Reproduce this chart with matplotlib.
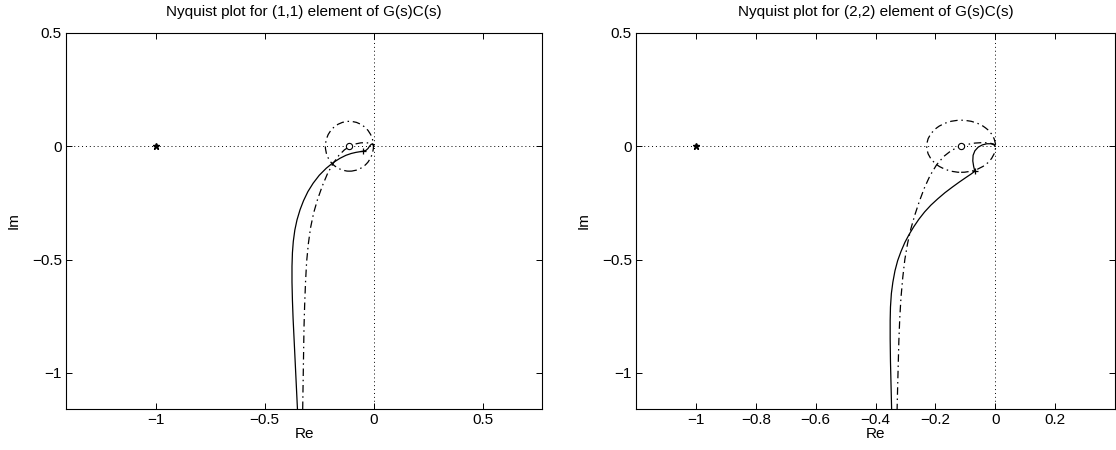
import matplotlib
matplotlib.use("Agg")
import matplotlib.pyplot as plt
from matplotlib.patches import Circle

plt.rcParams['font.family'] = ['Liberation Sans', 'DejaVu Sans']
plt.rcParams['font.size'] = 11

# ---------------- data ----------------
titles = ["Nyquist plot for (1,1) element of G(s)C(s)",
          "Nyquist plot for (2,2) element of G(s)C(s)"]

# (1,1) element
re11_solid = [-0.350, -0.354, -0.358, -0.362, -0.366, -0.370, -0.373, -0.375, -0.375,
              -0.373, -0.369, -0.362, -0.352, -0.338, -0.322, -0.302, -0.278, -0.250,
              -0.218, -0.186, -0.155, -0.128, -0.104, -0.082, -0.063, -0.049, -0.036,
              -0.027, -0.020, -0.013, -0.006, -0.001, 0.000]
im11_solid = [-1.16, -1.08, -1.00, -0.92, -0.84, -0.76, -0.68, -0.60, -0.53,
              -0.47, -0.42, -0.37, -0.325, -0.28, -0.24, -0.20, -0.163, -0.128,
              -0.097, -0.072, -0.053, -0.040, -0.032, -0.027, -0.024, -0.022, -0.018,
              -0.010, 0.000, 0.008, 0.011, 0.007, 0.000]
re11_dash = [-0.326, -0.324, -0.322, -0.320, -0.317, -0.313, -0.308, -0.300, -0.290,
             -0.276, -0.258, -0.236, -0.212, -0.186, -0.160, -0.135, -0.110, -0.085,
             -0.060, -0.035, -0.015, 0.000]
im11_dash = [-1.16, -1.04, -0.92, -0.80, -0.70, -0.60, -0.51, -0.43, -0.36,
             -0.295, -0.235, -0.175, -0.120, -0.075, -0.040, -0.016, 0.000, 0.010,
             0.015, 0.016, 0.012, 0.004]
arrow11 = (-0.049, -0.022)

# (2,2) element
re22_solid = [-0.346, -0.348, -0.350, -0.351, -0.351, -0.350, -0.347, -0.342, -0.335,
              -0.326, -0.315, -0.302, -0.288, -0.272, -0.255, -0.236, -0.215, -0.192,
              -0.168, -0.143, -0.120, -0.098, -0.080, -0.068, -0.072, -0.075, -0.074,
              -0.068, -0.057, -0.043, -0.028, -0.014, -0.004, 0.000]
im22_solid = [-1.17, -1.06, -0.95, -0.85, -0.77, -0.71, -0.65, -0.60, -0.55,
              -0.505, -0.465, -0.425, -0.39, -0.355, -0.322, -0.29, -0.26, -0.232,
              -0.205, -0.180, -0.158, -0.138, -0.122, -0.110, -0.090, -0.065, -0.040,
              -0.020, -0.004, 0.006, 0.011, 0.011, 0.006, 0.000]
re22_dash = [-0.328, -0.326, -0.324, -0.322, -0.319, -0.315, -0.309, -0.302, -0.293,
             -0.282, -0.269, -0.254, -0.237, -0.218, -0.196, -0.172, -0.146, -0.120,
             -0.094, -0.068, -0.044, -0.022, -0.006, 0.000]
im22_dash = [-1.17, -1.06, -0.96, -0.86, -0.76, -0.67, -0.58, -0.50, -0.43,
             -0.365, -0.305, -0.245, -0.185, -0.130, -0.082, -0.045, -0.018, -0.002,
             0.008, 0.014, 0.016, 0.015, 0.010, 0.004]
arrow22 = (-0.066, -0.108)

critical_point = (-1.0, 0.0)
circle_center = [(-0.112, 0.0), (-0.114, 0.0)]
circle_radius = [0.11, 0.115]

xlims = [(-1.41, 0.77), (-1.2, 0.4)]
ylims = [(-1.16, 0.5), (-1.16, 0.5)]
xticks = [[-1, -0.5, 0, 0.5], [-1, -0.8, -0.6, -0.4, -0.2, 0, 0.2]]
xticklabels = [["\u22121", "\u22120.5", "0", "0.5"],
               ["\u22121", "\u22120.8", "\u22120.6", "\u22120.4", "\u22120.2", "0", "0.2"]]
yticks = [-1, -0.5, 0, 0.5]
yticklabels = ["\u22121", "\u22120.5", "0", "0.5"]

solids = [(re11_solid, im11_solid), (re22_solid, im22_solid)]
dashes = [(re11_dash, im11_dash), (re22_dash, im22_dash)]
arrows = [arrow11, arrow22]

# ---------------- figure ----------------
W, H = 1116, 450
fig = plt.figure(figsize=(W / 100, H / 100), dpi=100)
positions = [(66, 33, 542, 409), (636, 33, 1115, 409)]

dd = (6, 3, 1.2, 3)
for i in range(2):
    x0, y0, x1, y1 = positions[i]
    ax = fig.add_axes([x0 / W, (H - y1) / H, (x1 - x0) / W, (y1 - y0) / H])
    ax.axhline(0, color='k', lw=0.7, ls=(0, (1, 3)))
    ax.axvline(0, color='k', lw=0.7, ls=(0, (1, 3)))
    ax.plot(*solids[i], color='k', lw=0.9)
    ax.plot(*dashes[i], color='k', lw=0.9, dashes=dd)
    ax.add_patch(Circle(circle_center[i], circle_radius[i], fill=False,
                        ec='k', lw=0.9, ls=(0, dd)))
    ax.plot(*circle_center[i], marker='o', ms=4.5, mfc='white', mec='k', mew=0.8, ls='none')
    ax.plot(*critical_point, marker='*', ms=5, color='k', ls='none')
    ax.plot(*arrows[i], marker='+', ms=5, color='k', mew=0.9, ls='none')

    ax.set_xlim(*xlims[i])
    ax.set_ylim(*ylims[i])
    ax.set_xticks(xticks[i])
    ax.set_xticklabels(xticklabels[i])
    ax.set_yticks(yticks)
    ax.set_yticklabels(yticklabels)
    ax.tick_params(direction='in', length=4, width=0.7, top=True, right=True,
                   labelsize=11, pad=3)
    for s in ax.spines.values():
        s.set_linewidth(0.8)
    ax.set_title(titles[i], fontsize=11, pad=12)
    ax.set_xlabel("Re", fontsize=11, labelpad=0)
    ax.set_ylabel("Im", fontsize=11, labelpad=8)

fig.savefig("out.png", dpi=100)
